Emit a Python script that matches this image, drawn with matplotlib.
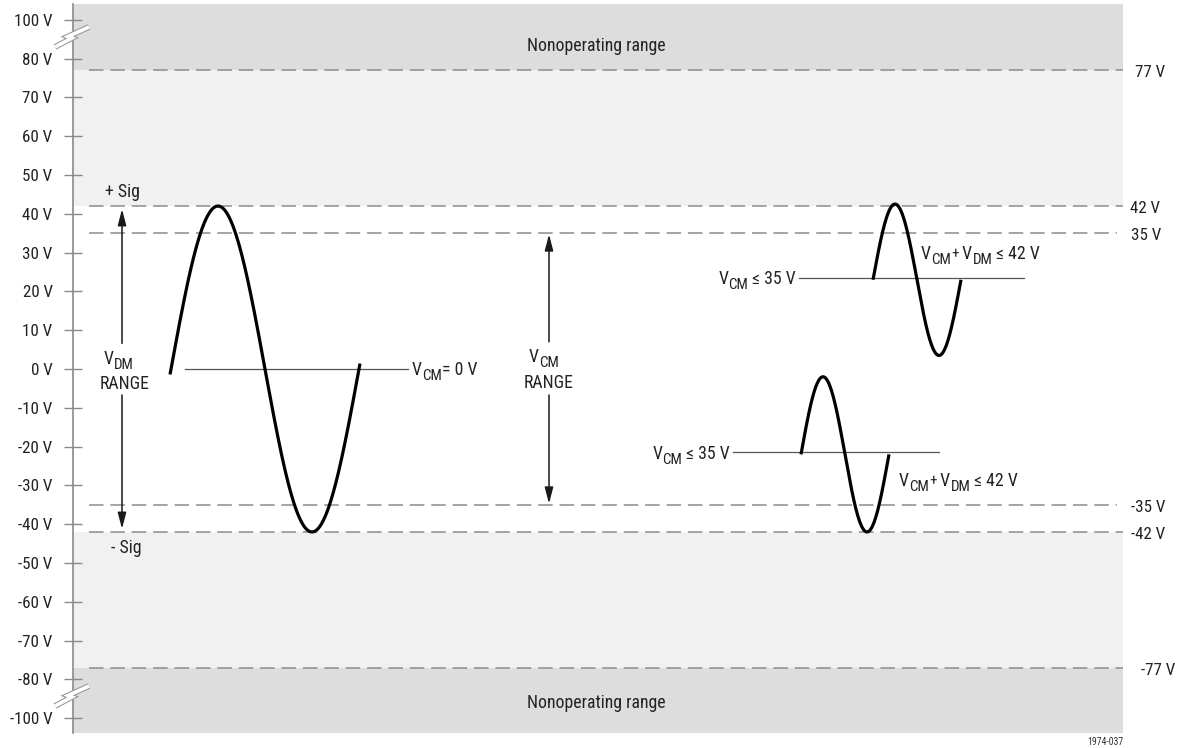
import numpy as np
import matplotlib
matplotlib.use("Agg")
import matplotlib.pyplot as plt
from matplotlib import font_manager as fm
from matplotlib.transforms import ScaledTranslation

# pick a condensed sans font if one is installed
def _has(name, stretch):
    for f in fm.fontManager.ttflist:
        st = f.stretch
        if isinstance(st, (int, float)):
            st = 'condensed' if st <= 300 else 'normal'
        if f.name == name and (stretch == 'normal' or st in ('condensed', 'semi-condensed')):
            return True
    return False

choice = ('Liberation Sans', 'normal', 0.9)
for name, stretch, scale in [('Liberation Sans Narrow', 'normal', 1.0),
                             ('Roboto Condensed', 'normal', 0.98),
                             ('Noto Sans', 'condensed', 0.95),
                             ('Open Sans', 'condensed', 0.95)]:
    if _has(name, stretch):
        choice = (name, stretch, scale)
        break
FONT, STRETCH, FSCALE = choice

plt.rcParams['font.family'] = [FONT, 'Liberation Sans', 'DejaVu Sans']
plt.rcParams['font.stretch'] = STRETCH

# ---------------- data ----------------
tick_values = [-90, -80, -70, -60, -50, -40, -30, -20, -10, 0, 10, 20, 30, 40, 50, 60, 70, 80, 90]
tick_labels = ["-100 V", "-80 V", "-70 V", "-60 V", "-50 V", "-40 V", "-30 V", "-20 V", "-10 V",
               "0 V", "10 V", "20 V", "30 V", "40 V", "50 V", "60 V", "70 V", "80 V", "100 V"]
levels = [77, 42, 35, -35, -42, -77]
level_labels = ["77 V", "42 V", "35 V", "-35 V", "-42 V", "-77 V"]
nonop_limit = 77
sig_limit = 42
cm_limit = 35

# waveforms: common-mode level, amplitude, peak position, half period, start, end (x in px units)
wave_center = [0, 23, -22]
wave_amp = [42, 19.5, 20]
wave_peak_x = [218, 895, 823]
wave_half_period = [94, 44, 44]
wave_x_start = [170, 873, 801]
wave_x_end = [360, 961, 889]
cm_line_level = [0, 23.5, -21.5]
cm_line_x = [(185, 408), (799, 1024), (733, 939)]

# ---------------- figure ----------------
W, H = 1180, 748
fig = plt.figure(figsize=(W / 100, H / 100), dpi=100)
ax_l, ax_r, ax_t, ax_b = 73, 1123, 4, 733
ax = fig.add_axes([ax_l / W, (H - ax_b) / H, (ax_r - ax_l) / W, (ax_b - ax_t) / H])
PX = 3.88  # px per volt
y0px = 369
ax.set_xlim(ax_l, ax_r)
ax.set_ylim(-(ax_b - y0px) / PX, (y0px - ax_t) / PX)
ylo, yhi = ax.get_ylim()
renderer = fig.canvas.get_renderer()

dark = '#dddddd'
light = '#f1f1f1'
ax.set_facecolor('white')
ax.axhspan(nonop_limit, yhi, color=dark, lw=0, zorder=0)
ax.axhspan(ylo, -nonop_limit, color=dark, lw=0, zorder=0)
ax.axhspan(sig_limit, nonop_limit, color=light, lw=0, zorder=0)
ax.axhspan(-nonop_limit, -sig_limit, color=light, lw=0, zorder=0)

for s in ['top', 'right', 'bottom']:
    ax.spines[s].set_visible(False)
ax.spines['left'].set_color('#8a8a8a')
ax.spines['left'].set_linewidth(1.2)
ax.set_xticks([])
ax.set_yticks(tick_values)
ax.set_yticklabels(tick_labels)
fs = 13 * FSCALE
tfs = 12.5 * FSCALE
ax.tick_params(axis='y', direction='inout', length=13.5, width=1.0, color='#8a8a8a',
               labelsize=tfs, labelcolor='#222222', pad=8)

tc = '#222222'


def rich_text(x, y, segments, ha='left', size=fs):
    """segments: list of (text, size factor, vertical shift in points); baseline-aligned."""
    arts, widths = [], []
    for txt, sf, dy in segments:
        t = ax.text(x, y, txt, fontsize=size * sf, color=tc, ha='left', va='baseline')
        widths.append(t.get_window_extent(renderer).width)
        arts.append((t, dy))
    total = sum(widths)
    start = {'left': 0.0, 'center': -total / 2, 'right': -total}[ha]
    off = start
    for (t, dy), w in zip(arts, widths):
        t.set_transform(ax.transData + ScaledTranslation(off / 100, dy / 72, fig.dpi_scale_trans))
        off += w


SUB = 0.85
SDY = -3.8

# dashed level lines and labels
label_x = {77: 1135, 42: 1130, 35: 1131, -35: 1131, -42: 1131, -77: 1141}
for lv, lab in zip(levels, level_labels):
    xe = 1117 if abs(lv) == cm_limit else 1123
    ax.plot([89, xe], [lv, lv], color='#8c8c8c', lw=1.1, dashes=(9.5, 4.5), zorder=2)
    ax.text(label_x[lv], lv - 0.6, lab, ha='left', va='center', fontsize=tfs,
            color=tc, clip_on=False)

# common-mode lines
for lv, (xa, xb) in zip(cm_line_level, cm_line_x):
    ax.plot([xa, xb], [lv, lv], color='#555555', lw=0.9, zorder=3)

# waveforms
for c, a, xp, hp, xs, xe in zip(wave_center, wave_amp, wave_peak_x, wave_half_period,
                                wave_x_start, wave_x_end):
    x = np.linspace(xs, xe, 300)
    y = c + a * np.cos(np.pi * (x - xp) / hp)
    ax.plot(x, y, color='black', lw=2.3, solid_capstyle='butt', zorder=4)

# arrows
aprops = dict(arrowstyle='-|>,head_length=0.65,head_width=0.17', lw=1.1, color='#1a1a1a',
              shrinkA=0, shrinkB=0, mutation_scale=15)
ax.annotate('', xy=(122, sig_limit - 0.8), xytext=(122, 6.6), arrowprops=aprops)
ax.annotate('', xy=(122, -sig_limit + 0.8), xytext=(122, -6.7), arrowprops=aprops)
ax.annotate('', xy=(549, cm_limit - 0.3), xytext=(549, 7.0), arrowprops=aprops)
ax.annotate('', xy=(549, -cm_limit + 0.3), xytext=(549, -6.7), arrowprops=aprops)

rich_text(119, 1.4, [('V', 1, 0), ('DM', SUB, SDY)], ha='center')
ax.text(125, -3.9, 'RANGE', ha='center', va='center', fontsize=fs, color=tc)
rich_text(544, 1.8, [('V', 1, 0), ('CM', SUB, SDY)], ha='center')
ax.text(549, -3.6, 'RANGE', ha='center', va='center', fontsize=fs, color=tc)
ax.text(122, 45.6, '+ Sig', ha='center', va='center', fontsize=fs, color=tc)
ax.text(126, -46.1, '- Sig', ha='center', va='center', fontsize=fs, color=tc)
ax.text(596, 82.0, 'Nonoperating range', ha='center', va='baseline', fontsize=fs, color=tc)
ax.text(596, -87.4, 'Nonoperating range', ha='center', va='baseline', fontsize=fs, color=tc)

rich_text(412, -1.6, [('V', 1, 0), ('CM', SUB, SDY), ('= 0 V', 1, 0)], ha='left')
rich_text(796, 21.9, [('V', 1, 0), ('CM', SUB, SDY), (' ≤ 35 V', 1, 0)], ha='right')
rich_text(730, -23.1, [('V', 1, 0), ('CM', SUB, SDY), (' ≤ 35 V', 1, 0)], ha='right')
rich_text(921, 28.4, [('V', 1, 0), ('CM', SUB, SDY), ('+', 0.85, 0.5), (' V', 1, 0),
                      ('DM', SUB, SDY), (' ≤ 42 V', 1, 0)], ha='left')
rich_text(899, -30.1, [('V', 1, 0), ('CM', SUB, SDY), ('+', 0.85, 0.5), (' V', 1, 0),
                       ('DM', SUB, SDY), (' ≤ 42 V', 1, 0)], ha='left')

# axis break symbols
bolt_dx = np.array([-18, -1, -5, 16])
bolt_dy = np.array([-9.5, -0.5, 1.0, 10.5])
for yc_px in (37.5, 696.5):
    bx = ax_l + bolt_dx
    by = (y0px - yc_px) / PX + bolt_dy / PX
    ax.plot(bx, by, color='#9a9a9a', lw=4.2, solid_joinstyle='miter', solid_capstyle='butt',
            clip_on=False, zorder=6)
    ax.plot(bx, by, color='white', lw=2.6, solid_joinstyle='miter', solid_capstyle='butt',
            clip_on=False, zorder=7)

fig.text(1123 / W, (H - 742) / H, '1974-037', ha='right', va='center', fontsize=7, color='#333333')

fig.savefig('out.png', dpi=100, facecolor='white')
